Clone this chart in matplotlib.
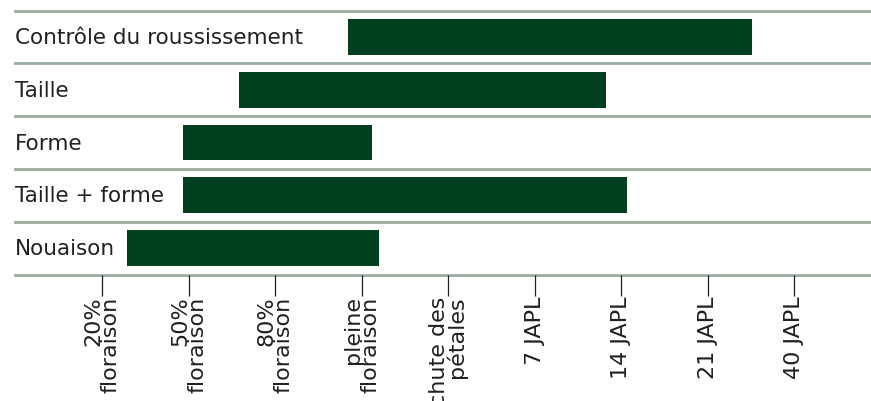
import matplotlib
matplotlib.use('Agg')
import matplotlib.pyplot as plt
import matplotlib.transforms as mtransforms

plt.rcParams['font.family'] = ['DejaVu Sans']

# stages on the x axis
stages = ['20%\nfloraison', '50%\nfloraison', '80%\nfloraison', 'pleine\nfloraison',
          'chute des\npétales', '7 JAPL', '14 JAPL', '21 JAPL', '40 JAPL']

# treatments, top to bottom
treatments = ['Contrôle du roussissement', 'Taille', 'Forme', 'Taille + forme', 'Nouaison']
starts = [2.84, 1.58, 0.94, 0.94, 0.29]
ends = [7.51, 5.83, 3.12, 6.07, 3.20]

bar_col = '#01401f'
line_col = '#98ab9e'
txt_col = '#231f20'

fig = plt.figure(figsize=(8.71, 4.02), dpi=100)
ax = fig.add_axes([15/871, (402-275.5)/402, 1 - 15/871, (275.5-11.5)/402])

rows = list(range(len(treatments)))
widths = [e - s for s, e in zip(starts, ends)]
ax.barh(rows, widths, left=starts, height=0.68, color=bar_col, zorder=2)

for k in range(len(treatments) + 1):
    ax.axhline(k - 0.5, color=line_col, lw=2.0, zorder=1, clip_on=False)

trans = mtransforms.blended_transform_factory(ax.transAxes, ax.transData)
for r, name in zip(rows, treatments):
    ax.text(0.0, r, name, transform=trans, ha='left', va='center',
            fontsize=15.5, color=txt_col)

ax.set_ylim(len(treatments) - 0.5, -0.5)
ax.set_xlim(-1.006, 8.89)

ax.set_xticks(range(len(stages)))
ax.set_xticklabels(stages, rotation=90, fontsize=16, color=txt_col,
                   linespacing=0.82)
for lab in ax.get_xticklabels():
    lab.set_multialignment('right')
ax.tick_params(axis='x', length=15, width=0.9, color=txt_col, pad=0)
ax.set_yticks([])
for sp in ax.spines.values():
    sp.set_visible(False)

fig.savefig('out.png', dpi=100)
